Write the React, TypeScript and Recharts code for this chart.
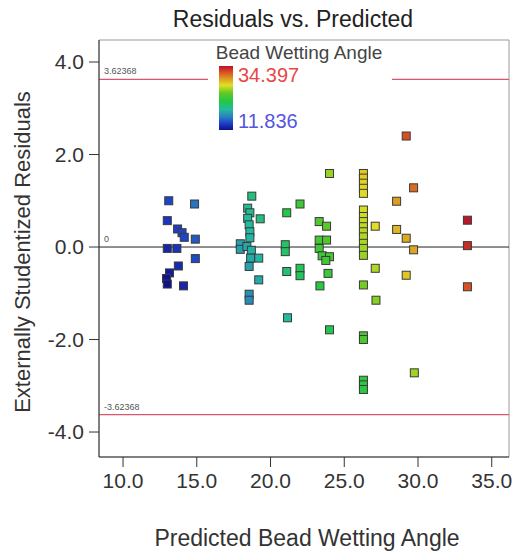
import React from 'react';
import { ScatterChart, Scatter, XAxis, YAxis, ReferenceLine, ReferenceArea } from 'recharts';

// Predicted bead wetting angle for each run
const predicted = [
  13.1, 14.85, 13.0, 13.7, 14.0, 14.15, 14.9, 13.0, 13.65, 14.9, 13.75, 13.15, 12.95, 13.0, 14.1,
  18.73, 18.45, 18.6, 18.45, 19.3, 18.55, 18.6, 18.6, 17.95, 17.95, 18.4, 18.7, 18.65, 19.2, 18.55, 19.2, 18.55, 18.55,
  21.1, 22.0, 21.0, 21.0, 21.1, 22.0, 22.0, 21.15,
  24.0, 23.3, 23.8, 23.3, 23.8, 23.3, 23.5, 24.0, 23.75, 23.9, 23.35, 24.0,
  26.3, 26.3, 26.3, 26.3, 26.3, 26.3, 26.3, 26.3, 26.3, 26.3, 26.3, 26.3, 26.3, 26.3, 26.3, 26.3, 26.3, 26.3, 26.3, 26.3,
  27.1, 27.1, 27.15, 28.55, 28.55, 29.2, 29.7, 29.2, 29.7, 29.2, 29.75,
  33.35, 33.35, 33.35,
];

// Externally studentized residual for each run
const residuals = [
  1.0, 0.93, 0.57, 0.39, 0.31, 0.21, 0.17, -0.03, -0.03, -0.25, -0.41, -0.56, -0.68, -0.8, -0.84,
  1.1, 0.84, 0.74, 0.62, 0.61, 0.48, 0.33, 0.2, 0.07, -0.05, 0.01, -0.07, -0.24, -0.24, -0.42, -0.71, -1.02, -1.15,
  0.74, 0.93, 0.05, -0.1, -0.53, -0.46, -0.62, -1.53,
  1.59, 0.55, 0.45, 0.15, 0.15, -0.03, -0.19, -0.21, -0.29, -0.57, -0.84, -1.79,
  1.59, 1.49, 1.38, 1.27, 1.16, 0.8, 0.66, 0.55, 0.44, 0.33, 0.22, 0.08, -0.03, -0.18, -0.82, -1.92, -2.0, -2.88, -2.98, -3.08,
  0.45, -0.46, -1.15, 0.99, 0.38, 0.19, -0.06, -0.61, 1.28, 2.4, -2.72,
  0.58, 0.03, -0.86,
];

const xTicks = [10, 15, 20, 25, 30, 35];
const yTicks = [-4, -2, 0, 2, 4];
const outlierLimit = 3.62368;
const colorMin = 11.836;
const colorMax = 34.397;
const residualScale = 1.3;

const FONT = '"Liberation Sans", Arial, sans-serif';

// rainbow colour scale used for the bead wetting angle
const colorStops: [number, string][] = [
  [0, '#10108c'],
  [0.1, '#1c3cc8'],
  [0.2, '#2a7cc0'],
  [0.32, '#22bba0'],
  [0.45, '#22c845'],
  [0.58, '#64c824'],
  [0.7, '#e2e022'],
  [0.82, '#dc8e22'],
  [0.92, '#d84422'],
  [1, '#b8102c'],
];

const hexToRgb = (h: string) => [1, 3, 5].map((i) => parseInt(h.slice(i, i + 2), 16));

function colorAt(t: number): string {
  const c = Math.max(0, Math.min(1, t));
  for (let i = 1; i < colorStops.length; i++) {
    const [t1, c1] = colorStops[i];
    const [t0, c0] = colorStops[i - 1];
    if (c <= t1) {
      const f = (c - t0) / (t1 - t0);
      const a = hexToRgb(c0);
      const b = hexToRgb(c1);
      const m = a.map((v, k) => Math.round(v + (b[k] - v) * f));
      return `rgb(${m[0]},${m[1]},${m[2]})`;
    }
  }
  return colorStops[colorStops.length - 1][1];
}

const points = predicted.map((x, i) => {
  const angle = x + residuals[i] * residualScale;
  return {
    x,
    y: residuals[i],
    color: colorAt((angle - colorMin) / (colorMax - colorMin)),
  };
});

const SquareMarker = (props: any) => {
  const { cx, cy, payload } = props;
  if (cx == null || cy == null) return null;
  const s = 8;
  return (
    <rect
      x={cx - s / 2}
      y={cy - s / 2}
      width={s}
      height={s}
      fill={payload.color}
      stroke="#3a3a3a"
      strokeWidth={1}
    />
  );
};

const X_DOMAIN: [number, number] = [8.37, 36.17];
const Y_DOMAIN: [number, number] = [-4.54, 4.476];

export default function App() {
  return (
    <div style={{ position: 'absolute', left: 0, top: 0, width: 514, height: 553, background: '#fff', fontFamily: FONT }}>
      <ScatterChart width={514} height={553} margin={{ top: 40, right: 5, left: 0, bottom: 0 }}>
        <ReferenceArea
          x1={X_DOMAIN[0]}
          x2={X_DOMAIN[1]}
          y1={Y_DOMAIN[0]}
          y2={Y_DOMAIN[1]}
          fill="none"
          stroke="#9a9a9a"
          strokeWidth={1}
        />
        <XAxis
          type="number"
          dataKey="x"
          domain={X_DOMAIN}
          ticks={xTicks}
          tickFormatter={(v: number) => v.toFixed(1)}
          allowDataOverflow
          height={96}
          tickSize={10}
          tickMargin={6}
          stroke="#333"
          tick={{ fill: '#333', fontSize: 21, fontFamily: FONT }}
        />
        <YAxis
          type="number"
          dataKey="y"
          domain={Y_DOMAIN}
          ticks={yTicks}
          tickFormatter={(v: number) => v.toFixed(1)}
          allowDataOverflow
          width={99}
          tickSize={10}
          tickMargin={5}
          stroke="#333"
          tick={{ fill: '#333', fontSize: 21, fontFamily: FONT }}
        />
        <ReferenceLine
          y={outlierLimit}
          stroke="#d9566c"
          strokeWidth={1.3}
          label={{ value: outlierLimit.toString(), position: 'insideBottomLeft', offset: 5, fill: '#555', fontSize: 9, fontFamily: FONT }}
        />
        <ReferenceLine
          y={-outlierLimit}
          stroke="#d9566c"
          strokeWidth={1.3}
          label={{ value: (-outlierLimit).toString(), position: 'insideBottomLeft', offset: 5, fill: '#555', fontSize: 9, fontFamily: FONT }}
        />
        <ReferenceLine
          y={0}
          stroke="#222"
          strokeWidth={1}
          label={{ value: '0', position: 'insideBottomLeft', offset: 5, fill: '#555', fontSize: 9, fontFamily: FONT }}
        />
        <Scatter data={points} shape={SquareMarker} isAnimationActive={false} />
      </ScatterChart>
      <svg
        width={514}
        height={553}
        style={{ position: 'absolute', left: 0, top: 0, pointerEvents: 'none' }}
        fontFamily={FONT}
      >
        <defs>
          <linearGradient id="angleScale" x1="0" y1="1" x2="0" y2="0">
            {colorStops.map(([t, c]) => (
              <stop key={t} offset={t} stopColor={c} />
            ))}
          </linearGradient>
        </defs>
        <text x={293} y={27} textAnchor="middle" fontSize={23} fill="#222">
          Residuals vs. Predicted
        </text>
        <text
          transform="translate(22,252) rotate(-90)"
          textAnchor="middle"
          dominantBaseline="central"
          fontSize={22}
          fill="#333"
        >
          Externally Studentized Residuals
        </text>
        <text x={307} y={546} textAnchor="middle" fontSize={23} fill="#333">
          Predicted Bead Wetting Angle
        </text>
        <rect x={208} y={41} width={184} height={95} fill="#fff" />
        <text x={299} y={59} textAnchor="middle" fontSize={19} fill="#444">
          Bead Wetting Angle
        </text>
        <rect x={219} y={66} width={14} height={64} fill="url(#angleScale)" />
        <text x={238} y={82} fontSize={20} fill="#e84848">
          {colorMax.toFixed(3)}
        </text>
        <text x={238} y={128} fontSize={20} fill="#5555e0">
          {colorMin.toFixed(3)}
        </text>
      </svg>
    </div>
  );
}
